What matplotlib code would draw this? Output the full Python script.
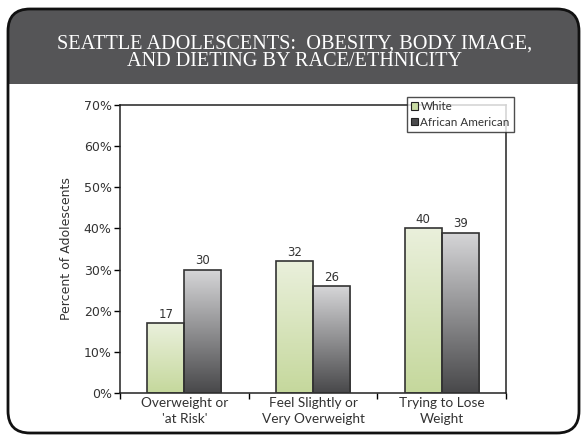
import matplotlib
matplotlib.use("Agg")
import matplotlib.pyplot as plt
import numpy as np
from matplotlib.patches import FancyBboxPatch, Rectangle, Patch
from matplotlib.colors import LinearSegmentedColormap
from matplotlib.ticker import FixedLocator, NullFormatter

categories = ["Overweight or\n'at Risk'", "Feel Slightly or\nVery Overweight", "Trying to Lose\nWeight"]
series_names = ["White", "African American"]
white_vals = [17, 32, 40]
aa_vals = [30, 26, 39]
y_ticks = [0, 10, 20, 30, 40, 50, 60, 70]
title_lines = ["SEATTLE ADOLESCENTS:  OBESITY, BODY IMAGE,", "AND DIETING BY RACE/ETHNICITY"]
y_label = "Percent of Adolescents"

W, H = 584, 436
fig = plt.figure(figsize=(W / 100, H / 100), dpi=100)
fig.patch.set_facecolor("white")

def fx(px):
    return px / W

def fy(py):
    return 1 - py / H

# Rounded panel with dark header band
frame_l, frame_t, frame_r, frame_b = 8, 9, 579, 433
pad = 22
panel = FancyBboxPatch((fx(frame_l), fy(frame_b)), fx(frame_r - frame_l), (frame_b - frame_t) / H,
                       boxstyle="round,pad=0,rounding_size=%f" % (pad / W),
                       transform=fig.transFigure, facecolor="white", edgecolor="none",
                       mutation_aspect=W / H, zorder=-3)
fig.patches.append(panel)
header = Rectangle((0, fy(84)), 1, 1 - fy(84), transform=fig.transFigure,
                   facecolor="#555557", edgecolor="none", zorder=-2)
header.set_clip_path(panel)
fig.patches.append(header)
border = FancyBboxPatch((fx(frame_l), fy(frame_b)), fx(frame_r - frame_l), (frame_b - frame_t) / H,
                        boxstyle="round,pad=0,rounding_size=%f" % (pad / W),
                        transform=fig.transFigure, facecolor="none", edgecolor="#111111",
                        linewidth=2.0, mutation_aspect=W / H, zorder=5)
fig.patches.append(border)

for line, ypx in zip(title_lines, [44, 62]):
    fig.text(fx(295), fy(ypx), line, ha="center", va="center", color="white",
             family="Liberation Serif", fontsize=14.6, zorder=3)

# Chart axes
ax = fig.add_axes([fx(120), fy(393), fx(506) - fx(120), (393 - 105) / H])
ax.set_facecolor("none")

x = np.arange(len(categories))
bw = 0.288
green_cmap = LinearSegmentedColormap.from_list("g", ["#c5d89c", "#eaf0dc"])
gray_cmap = LinearSegmentedColormap.from_list("k", ["#48484a", "#d6d6d8"])

grad = np.linspace(0, 1, 256).reshape(-1, 1)
for vals, offset, cmap in [(white_vals, -bw / 2, green_cmap), (aa_vals, bw / 2, gray_cmap)]:
    bars = ax.bar(x + offset, vals, width=bw, facecolor="none", edgecolor="#333333",
                  linewidth=1.2, zorder=3)
    for b, v in zip(bars, vals):
        x0 = b.get_x()
        im = ax.imshow(grad, extent=[x0, x0 + bw, 0, v], origin="lower", aspect="auto",
                       cmap=cmap, zorder=2, interpolation="bicubic")
        im.set_clip_path(b)
        ax.text(x0 + bw / 2, v + 0.6, str(v), ha="center", va="bottom",
                fontsize=8.5, color="#333333", family="DejaVu Sans")

ax.set_xlim(-0.5, len(categories) - 0.5)
ax.set_ylim(0, 70)

ax.set_yticks(y_ticks)
ax.set_yticklabels([f"{t}%" for t in y_ticks], fontsize=9, color="#333333")
ax.tick_params(axis="y", direction="out", length=4, width=1, pad=2)

ax.xaxis.set_major_locator(FixedLocator([-0.5, 0.5, 1.5, 2.5]))
ax.xaxis.set_major_formatter(NullFormatter())
ax.xaxis.set_minor_locator(FixedLocator(x))
ax.set_xticklabels(categories, minor=True, fontsize=9.8, color="#333333",
                   family="Lato", linespacing=1.42)
ax.tick_params(axis="x", which="major", direction="out", length=4, width=1)
ax.tick_params(axis="x", which="minor", length=0, pad=3)

for s in ax.spines.values():
    s.set_linewidth(1.1)
    s.set_color("#222222")

ax.set_ylabel(y_label, fontsize=9, color="#333333", labelpad=8)

handles = [Patch(facecolor="#c9dca4", edgecolor="#222222", linewidth=0.8),
           Patch(facecolor="#4a4a4c", edgecolor="#222222", linewidth=0.8)]
leg = fig.legend(handles, series_names, loc="upper left",
                 bbox_to_anchor=(fx(407), fy(97)), bbox_transform=fig.transFigure,
                 prop={"family": "Lato", "size": 8.4}, frameon=True, fancybox=False,
                 handlelength=0.6, handleheight=0.6, handletextpad=0.2, borderpad=0.35,
                 labelspacing=0.4, borderaxespad=0)
leg.get_frame().set_edgecolor("#222222")
leg.get_frame().set_linewidth(1.0)
leg.set_zorder(4)
for t in leg.get_texts():
    t.set_color("#333333")

fig.savefig("out.png", dpi=100)
